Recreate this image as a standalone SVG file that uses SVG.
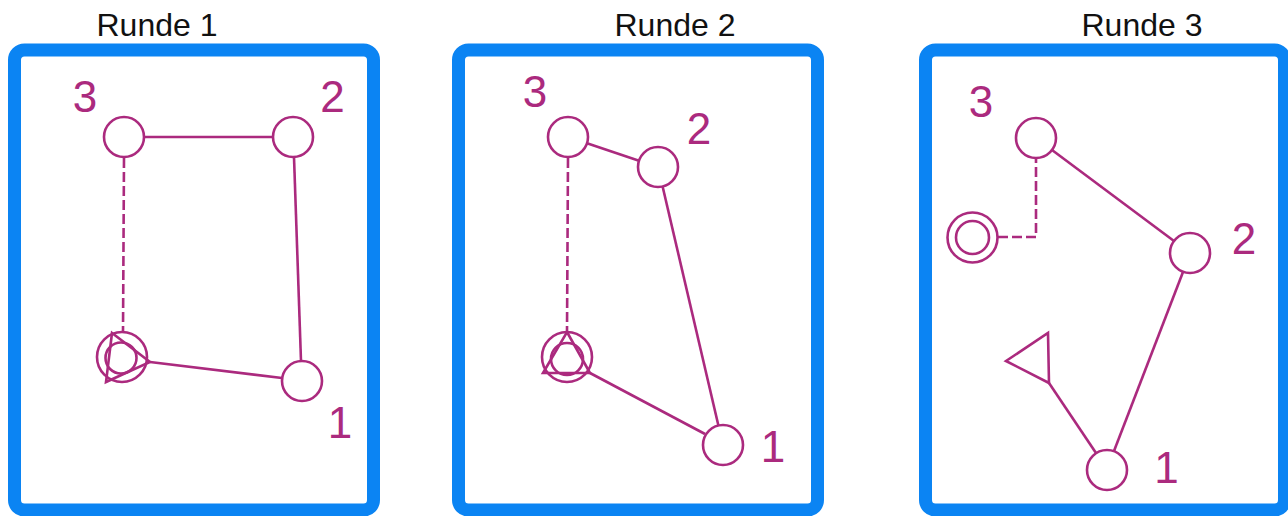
<svg xmlns="http://www.w3.org/2000/svg" width="1288" height="516" viewBox="0 0 1288 516">
<style>
.frame{fill:#ffffff;stroke:#0b84f3;stroke-width:13}
.title{font-family:"Liberation Sans",Arial,sans-serif;font-size:32px;fill:#111111;text-anchor:middle}
.lbl{font-family:"Liberation Sans",Arial,sans-serif;font-size:44px;fill:#ab2a7e;text-anchor:middle}
.n{fill:none;stroke:#ab2a7e;stroke-width:2.6}
.e{fill:none;stroke:#ab2a7e;stroke-width:2.6}
.d{fill:none;stroke:#ab2a7e;stroke-width:2.6;stroke-dasharray:10 4}
</style>
<rect width="1288" height="516" fill="#ffffff"/>
<g id="panel1">
<rect class="frame" x="14.5" y="50" width="359" height="460" rx="10"/>
<text class="title" x="157" y="36">Runde 1</text>
</g>
<g id="panel2">
<rect class="frame" x="458.5" y="50" width="359" height="460" rx="10"/>
<text class="title" x="675" y="36">Runde 2</text>
</g>
<g id="panel3">
<rect class="frame" x="925.5" y="50" width="359" height="460" rx="10"/>
<text class="title" x="1142" y="36">Runde 3</text>
</g>
<g id="connectors">
<line class="e" x1="144" y1="137" x2="273" y2="137"/>
<line class="e" x1="294" y1="157" x2="301" y2="361"/>
<line class="e" x1="282" y1="378" x2="150" y2="362"/>
<line class="d" x1="124" y1="158" x2="123" y2="332"/>
<line class="e" x1="587" y1="143.3" x2="639" y2="160.7"/>
<line class="e" x1="662.6" y1="186.5" x2="718.4" y2="425.5"/>
<line class="e" x1="705" y1="434" x2="590" y2="373"/>
<line class="d" x1="568" y1="158" x2="567" y2="332"/>
<line class="e" x1="1052" y1="150" x2="1174" y2="241"/>
<line class="e" x1="1183" y1="272" x2="1114" y2="451"/>
<line class="e" x1="1049" y1="383" x2="1096" y2="453"/>
<polyline class="d" points="998,237 1036,237 1036,158"/>
</g>
<g id="r1-node3"><circle class="n" cx="124" cy="137" r="20"/><text class="lbl" x="85" y="112">3</text></g>
<g id="r1-node2"><circle class="n" cx="293" cy="137" r="20"/><text class="lbl" x="332.5" y="112">2</text></g>
<g id="r1-node1"><circle class="n" cx="302" cy="381" r="20"/><text class="lbl" x="340" y="438">1</text></g>
<g id="r1-start"><circle class="n" cx="122" cy="357" r="25"/><circle class="n" cx="121" cy="358" r="15.5"/><polygon class="n" points="112,333 150,362 106,382"/></g>
<g id="r2-node3"><circle class="n" cx="568" cy="137" r="20"/><text class="lbl" x="535" y="107">3</text></g>
<g id="r2-node2"><circle class="n" cx="658" cy="167" r="20"/><text class="lbl" x="699" y="143.5">2</text></g>
<g id="r2-node1"><circle class="n" cx="723" cy="445" r="20"/><text class="lbl" x="773" y="462">1</text></g>
<g id="r2-start"><circle class="n" cx="567" cy="357" r="25"/><circle class="n" cx="567" cy="359" r="16"/><polygon class="n" points="567,332 590,373 543,373"/></g>
<g id="r3-node3"><circle class="n" cx="1036" cy="138" r="20"/><text class="lbl" x="981" y="117">3</text></g>
<g id="r3-node2"><circle class="n" cx="1190" cy="253" r="20"/><text class="lbl" x="1244" y="253.5">2</text></g>
<g id="r3-node1"><circle class="n" cx="1107" cy="470" r="20"/><text class="lbl" x="1166.5" y="483">1</text></g>
<g id="r3-target"><circle class="n" cx="972.5" cy="237.5" r="25"/><circle class="n" cx="972.5" cy="237.5" r="16.5"/></g>
<g id="r3-triangle"><polygon class="n" points="1006,361 1048,333 1049,383"/></g>
</svg>
